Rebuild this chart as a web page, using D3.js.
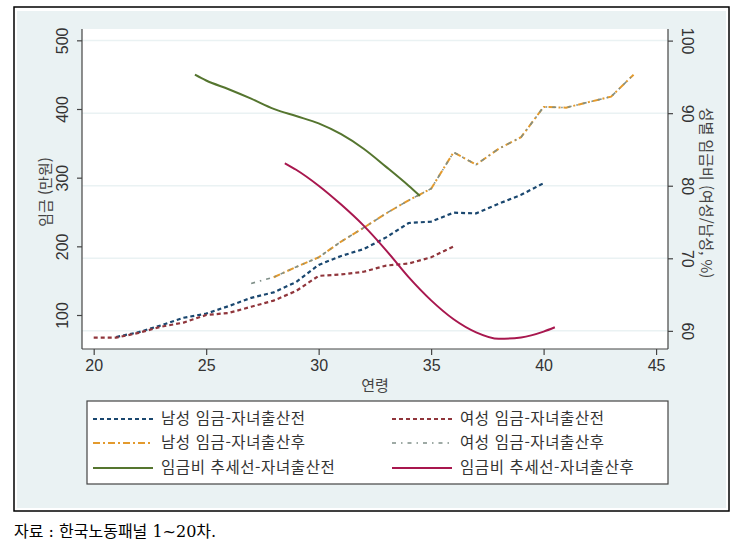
<!DOCTYPE html>
<html lang="ko">
<head>
    <meta charset="UTF-8">
    <title>연령별 임금 및 성별 임금비</title>
    <script src="https://d3js.org/d3.v7.min.js"></script>
    <style>
        body { margin: 0; background: #fff; font-family: "Liberation Sans", Arial, "Noto Sans CJK KR", sans-serif; }
        .tick-label { font-size: 16px; fill: #333; }
        .axis-title { font-size: 15px; fill: #444; font-family: "Noto Sans CJK KR", sans-serif; }
        .legend-text { font-size: 15.5px; fill: #333; font-family: "Noto Sans CJK KR", sans-serif; letter-spacing: 0.6px; }
    </style>
</head>
<body>
<svg width="751" height="556"></svg>
<script>
    // ages
    const agesMaleBefore = d3.range(21, 41);
    const agesFemaleBefore = d3.range(20, 37);
    const agesMaleAfter = d3.range(28, 45);
    const agesFemaleAfter = d3.range(27, 45);
    const agesRatioBefore = [24.5, 25, 26, 27, 28, 29, 30, 31, 32, 33, 34, 34.5];
    const agesRatioAfter = [28.5, 29, 30, 31, 32, 33, 34, 35, 36, 37, 38, 39, 40, 40.5];

    // wages (만원), left axis
    const wageMaleBefore = [68, 75, 85, 96, 102, 113, 125, 133, 148, 173, 186, 196, 213, 234, 236, 249, 248, 262, 275, 292];
    const wageFemaleBefore = [67, 67, 74, 83, 89, 100, 103, 112, 121, 135, 157, 159, 163, 172, 175, 184, 200];
    const wageMaleAfter = [155, 170, 184, 207, 227, 248, 267, 284, 337, 319, 342, 359, 403, 402, 410, 418, 450];
    const wageFemaleAfter = [146, 155, 170, 184, 207, 227, 248, 267, 284, 337, 319, 342, 359, 403, 402, 410, 418, 450];

    // wage ratio (%), right axis
    const ratioBefore = [95.3, 94.5, 93.3, 92.0, 90.6, 89.6, 88.6, 87.1, 85.1, 82.6, 80.0, 78.6];
    const ratioAfter = [83.1, 82.2, 80.0, 77.4, 74.5, 71.1, 67.4, 64.2, 61.6, 59.8, 58.9, 59.1, 59.9, 60.5];

    const xTicks = [20, 25, 30, 35, 40, 45];
    const leftTicks = [100, 200, 300, 400, 500];
    const rightTicks = [60, 70, 80, 90, 100];

    const legendLabels = [
        "남성 임금-자녀출산전", "여성 임금-자녀출산전",
        "남성 임금-자녀출산후", "여성 임금-자녀출산후",
        "임금비 추세선-자녀출산전", "임금비 추세선-자녀출산후"
    ];

    const svg = d3.select("svg");

    // frame + background
    svg.append("rect").attr("x", 14).attr("y", 7).attr("width", 715).attr("height", 504)
        .attr("fill", "#fff").attr("stroke", "#000").attr("stroke-width", 1.5);
    svg.append("rect").attr("x", 17).attr("y", 11).attr("width", 709).attr("height", 497)
        .attr("fill", "#eaf2f3");

    const plot = {left: 82, right: 668, top: 29, bottom: 349};
    svg.append("rect").attr("x", plot.left).attr("y", plot.top)
        .attr("width", plot.right - plot.left).attr("height", plot.bottom - plot.top)
        .attr("fill", "#fff");

    const x = d3.scaleLinear().domain([19.48, 45.53]).range([plot.left, plot.right]);
    const yL = d3.scaleLinear().domain([50.5, 516.5]).range([plot.bottom, plot.top]);
    const yR = d3.scaleLinear().domain([57.5, 101.6]).range([plot.bottom, plot.top]);

    // gridlines (follow right axis)
    svg.append("g").selectAll("line").data(rightTicks).join("line")
        .attr("x1", plot.left).attr("x2", plot.right)
        .attr("y1", d => yR(d)).attr("y2", d => yR(d))
        .attr("stroke", "#eaf2f3").attr("stroke-width", 1.5);

    // axes
    const axisColor = "#444";
    const gx = svg.append("g").attr("transform", `translate(0,${plot.bottom})`)
        .call(d3.axisBottom(x).tickValues(xTicks).tickSize(6).tickPadding(5).tickSizeOuter(0));
    gx.select(".domain").attr("d", `M${plot.left},0H${plot.right}`);
    gx.selectAll(".tick text").attr("class", "tick-label").attr("font-size", null).attr("font-family", null);

    const gl = svg.append("g").attr("transform", `translate(${plot.left},0)`)
        .call(d3.axisLeft(yL).tickValues(leftTicks).tickSize(5).tickSizeOuter(0));
    gl.select(".domain").attr("d", `M0,${plot.top}V${plot.bottom}`);
    gl.selectAll(".tick text").attr("class", "tick-label").attr("font-size", null).attr("font-family", null)
        .attr("x", null).attr("dy", null)
        .attr("transform", "translate(-14,0) rotate(-90)")
        .attr("text-anchor", "middle");

    const gr = svg.append("g").attr("transform", `translate(${plot.right},0)`)
        .call(d3.axisRight(yR).tickValues(rightTicks).tickSize(5).tickSizeOuter(0));
    gr.select(".domain").attr("d", `M0,${plot.top}V${plot.bottom}`);
    gr.selectAll(".tick text").attr("class", "tick-label").attr("font-size", null).attr("font-family", null)
        .attr("x", null).attr("dy", null)
        .attr("transform", "translate(14,0) rotate(90)")
        .attr("text-anchor", "middle");

    [gx, gl, gr].forEach(g => {
        g.selectAll(".domain, .tick line").attr("stroke", axisColor).attr("stroke-width", 1.2);
    });

    // axis titles
    svg.append("text").attr("class", "axis-title")
        .attr("transform", "translate(51,192) rotate(-90)").attr("text-anchor", "middle")
        .text("임금 (만원)");
    svg.append("text").attr("class", "axis-title")
        .attr("transform", "translate(701,193) rotate(90)").attr("text-anchor", "middle")
        .text("성별 임금비 (여성/남성, %)");
    svg.append("text").attr("class", "axis-title")
        .attr("x", 375).attr("y", 391).attr("text-anchor", "middle")
        .text("연령");

    // series
    const series = [
        {ages: agesMaleBefore, vals: wageMaleBefore, y: yL, color: "#1a476f", dash: "4,3", w: 2.2},
        {ages: agesFemaleBefore, vals: wageFemaleBefore, y: yL, color: "#90353b", dash: "4,3", w: 2.2},
        {ages: agesMaleAfter, vals: wageMaleAfter, y: yL, color: "#e39a2d", dash: "7,3,2,3", w: 2},
        {ages: agesFemaleAfter, vals: wageFemaleAfter, y: yL, color: "#7f8f88", dash: "4,5,1.5,5", w: 1.6},
        {ages: agesRatioBefore, vals: ratioBefore, y: yR, color: "#55752f", dash: null, w: 2},
        {ages: agesRatioAfter, vals: ratioAfter, y: yR, color: "#a8174e", dash: null, w: 2}
    ];

    series.forEach((s, i) => {
        const line = d3.line()
            .x((d, j) => x(s.ages[j]))
            .y(d => s.y(d))
            .curve(i >= 4 ? d3.curveMonotoneX : d3.curveLinear);
        svg.append("path").datum(s.vals)
            .attr("d", line)
            .attr("fill", "none")
            .attr("stroke", s.color)
            .attr("stroke-width", s.w)
            .attr("stroke-dasharray", s.dash);
    });

    // legend
    svg.append("rect").attr("x", 87).attr("y", 401).attr("width", 581).attr("height", 83)
        .attr("fill", "#fff").attr("stroke", "#444").attr("stroke-width", 1.2);
    const colX = [93, 392];
    const rowY = [419, 443, 468];
    series.forEach((s, i) => {
        const cx = colX[i % 2], cy = rowY[Math.floor(i / 2)];
        svg.append("line").attr("x1", cx).attr("x2", cx + 60).attr("y1", cy).attr("y2", cy)
            .attr("stroke", s.color).attr("stroke-width", s.w).attr("stroke-dasharray", s.dash);
        svg.append("text").attr("class", "legend-text")
            .attr("x", cx + 68).attr("y", cy + 5).text(legendLabels[i]);
    });

    // source
    svg.append("text").attr("x", 14).attr("y", 537)
        .attr("font-size", 16).attr("fill", "#000")
        .attr("font-family", "'DejaVu Serif', 'Noto Sans CJK KR', serif")
        .text("자료 : 한국노동패널 1~20차.");
</script>
</body>
</html>
